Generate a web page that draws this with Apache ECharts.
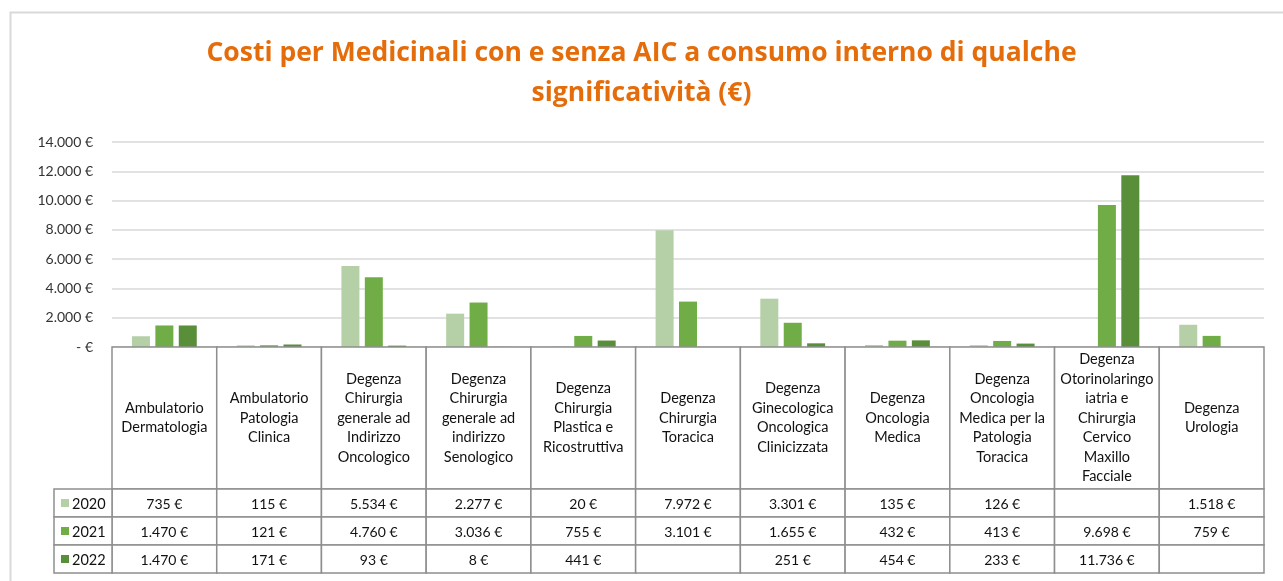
<!DOCTYPE html>
<html>
<head>
<meta charset="utf-8">
<script src="https://cdn.jsdelivr.net/npm/echarts@6/dist/echarts.min.js"></script>
<style>
  html, body { margin: 0; padding: 0; background: #fff; }
  #chart { width: 1283px; height: 581px; }
</style>
</head>
<body>
<div id="chart"></div>
<script>
const categories = [
  'Ambulatorio\nDermatologia',
  'Ambulatorio\nPatologia\nClinica',
  'Degenza\nChirurgia\ngenerale ad\nIndirizzo\nOncologico',
  'Degenza\nChirurgia\ngenerale ad\nindirizzo\nSenologico',
  'Degenza\nChirurgia\nPlastica e\nRicostruttiva',
  'Degenza\nChirurgia\nToracica',
  'Degenza\nGinecologica\nOncologica\nClinicizzata',
  'Degenza\nOncologia\nMedica',
  'Degenza\nOncologia\nMedica per la\nPatologia\nToracica',
  'Degenza\nOtorinolaringo\niatria e\nChirurgia\nCervico\nMaxillo\nFacciale',
  'Degenza\nUrologia'
];
const years = ['2020', '2021', '2022'];
const values2020 = [735, 115, 5534, 2277, 20, 7972, 3301, 135, 126, null, 1518];
const values2021 = [1470, 121, 4760, 3036, 755, 3101, 1655, 432, 413, 9698, 759];
const values2022 = [1470, 171, 93, 8, 441, null, 251, 454, 233, 11736, null];
const colors = ['#B5D0A6', '#70AD47', '#5A8F3A'];

const allValues = [values2020, values2021, values2022];
const font = 'Lato, "Open Sans", sans-serif';

function euro(v) {
  if (v === null || v === undefined) return '';
  return String(v).replace(/\B(?=(\d{3})+(?!\d))/g, '.') + ' €';
}

const chart = echarts.init(document.getElementById('chart'));

const headerH = 142;
const rowH = 28;
const legendW = 58;
const border = '#8E8E8E';

function renderTableCell(params, api) {
  const idx = api.value(0);
  const top = api.coord([idx, 0]);
  const w = api.size([1, 0])[0];
  const x0 = top[0] - w / 2;
  const y0 = top[1];
  const children = [];

  children.push({
    type: 'rect',
    shape: { x: x0, y: y0, width: w, height: headerH },
    style: { fill: '#fff', stroke: border, lineWidth: 1.5 }
  });
  children.push({
    type: 'text',
    style: {
      text: categories[idx],
      x: x0 + w / 2, y: y0 + headerH / 2,
      align: 'center', verticalAlign: 'middle',
      font: '14.5px ' + font, lineHeight: 19.5, fill: '#111'
    }
  });

  years.forEach((yr, r) => {
    const ry = y0 + headerH + r * rowH;
    children.push({
      type: 'rect',
      shape: { x: x0, y: ry, width: w, height: rowH },
      style: { fill: '#fff', stroke: border, lineWidth: 1.5 }
    });
    children.push({
      type: 'text',
      style: {
        text: euro(allValues[r][idx]),
        x: x0 + w / 2, y: ry + rowH / 2 + 1,
        align: 'center', verticalAlign: 'middle',
        font: '14px ' + font, fill: '#111'
      }
    });
    if (idx === 0) {
      const lx = x0 - legendW;
      children.push({
        type: 'rect',
        shape: { x: lx, y: ry, width: legendW, height: rowH },
        style: { fill: '#fff', stroke: border, lineWidth: 1.5 }
      });
      children.push({
        type: 'rect',
        shape: { x: lx + 7, y: ry + 10, width: 8, height: 8 },
        style: { fill: colors[r] }
      });
      children.push({
        type: 'text',
        style: {
          text: yr,
          x: lx + 18, y: ry + rowH / 2 + 1,
          align: 'left', verticalAlign: 'middle',
          font: '14.5px ' + font, fill: '#111'
        }
      });
    }
  });

  return { type: 'group', children: children };
}

const barSeries = years.map((yr, i) => ({
  name: yr,
  type: 'bar',
  data: allValues[i],
  barWidth: 18,
  barGap: '30%',
  itemStyle: { color: colors[i] },
  z: 2
}));

chart.setOption({
  animation: false,
  textStyle: { fontFamily: font },
  graphic: [{
    type: 'rect',
    left: 8, top: 10,
    shape: { width: 1300, height: 600 },
    style: { fill: 'none', stroke: '#D9D9D9', lineWidth: 2 },
    silent: true
  }],
  title: {
    text: 'Costi per Medicinali con e senza AIC a consumo interno di qualche\nsignificatività (€)',
    left: 'center',
    top: 28,
    textStyle: {
      color: '#E46C0A',
      fontSize: 26.5,
      fontWeight: 'bold',
      fontFamily: '"Open Sans", Lato, sans-serif',
      lineHeight: 40
    }
  },
  grid: { left: 112, right: 19, top: 142, bottom: 234 },
  xAxis: {
    type: 'category',
    data: categories,
    axisLine: { show: false },
    axisTick: { show: false },
    axisLabel: { show: false }
  },
  yAxis: {
    type: 'value',
    min: 0,
    max: 14000,
    interval: 2000,
    axisLine: { show: false },
    axisTick: { show: false },
    axisLabel: {
      color: '#333',
      fontSize: 14,
      margin: 19,
      formatter: v => (v === 0 ? '- €' : euro(v))
    },
    splitLine: { lineStyle: { color: '#D9D9D9', width: 1.5 } }
  },
  series: barSeries.concat([{
    type: 'custom',
    renderItem: renderTableCell,
    data: categories.map((c, i) => [i]),
    clip: false,
    silent: true,
    z: 3
  }])
});
</script>
</body>
</html>
